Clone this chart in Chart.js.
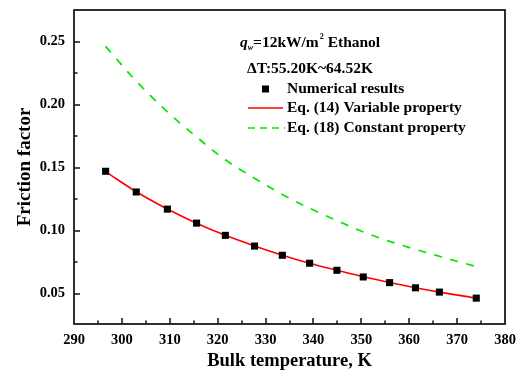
<!DOCTYPE html>
<html>
<head>
<meta charset="utf-8">
<script src="https://cdn.jsdelivr.net/npm/chart.js@4.4.1/dist/chart.umd.min.js"></script>
<style>
  html, body { margin: 0; padding: 0; background: #fff; }
  #wrap { width: 524px; height: 373px; }
</style>
</head>
<body>
<div id="wrap"><canvas id="chart" width="524" height="373"></canvas></div>
<script>
// bulk temperature, K
const temps = [296.6, 303.0, 309.5, 315.6, 321.6, 327.7, 333.5, 339.2, 344.9, 350.4, 355.9, 361.3, 366.3, 374.0];
// numerical results
const numerical = [0.1471, 0.1307, 0.1171, 0.1060, 0.0963, 0.0878, 0.0805, 0.0742, 0.0686, 0.0633, 0.0588, 0.0547, 0.0513, 0.0465];
// Eq. (14) variable property
const eq14 = [0.1468, 0.1309, 0.1172, 0.1059, 0.0963, 0.0879, 0.0806, 0.0742, 0.0686, 0.0634, 0.0589, 0.0548, 0.0513, 0.0465];
// Eq. (18) constant property
const eq18 = [0.2462, 0.2186, 0.1942, 0.1743, 0.1562, 0.1416, 0.1287, 0.1178, 0.1080, 0.0990, 0.0915, 0.0852, 0.0797, 0.0715];

const xTicks = [290, 300, 310, 320, 330, 340, 350, 360, 370, 380];
const yTicks = [0.05, 0.10, 0.15, 0.20, 0.25];

const FONT = '"Liberation Serif", "Times New Roman", serif';
const GREEN = '#00e600';
const RED = '#ff0000';

const pts = (ys) => temps.map((t, i) => ({ x: t, y: ys[i] }));

// 框线、向内刻度和图内说明
const framePlugin = {
    id: 'frame',
    afterDatasetsDraw(chart) {
        const { ctx, chartArea: a, scales } = chart;
        const xs = scales.x, ys = scales.y;
        ctx.save();

        // inward ticks on bottom and left
        ctx.strokeStyle = '#111';
        ctx.lineWidth = 1.5;
        ctx.beginPath();
        for (let v = 295; v < 380; v += 5) {
            const px = Math.round(xs.getPixelForValue(v));
            const len = (v % 10 === 0) ? 6 : 3.5;
            ctx.moveTo(px, a.bottom);
            ctx.lineTo(px, a.bottom - len);
        }
        for (let k = 1; k <= 9; k++) {
            const v = 0.025 * k + 0.025;
            const py = Math.round(ys.getPixelForValue(v));
            const len = (k % 2 === 1) ? 6 : 3.5;
            ctx.moveTo(a.left, py);
            ctx.lineTo(a.left + len, py);
        }
        ctx.stroke();

        // box
        ctx.strokeStyle = '#1a1a1a';
        ctx.lineWidth = 1.8;
        ctx.strokeRect(a.left, a.top, a.right - a.left, a.bottom - a.top);

        // annotation text
        ctx.fillStyle = '#000';
        ctx.textBaseline = 'middle';
        ctx.textAlign = 'left';
        const fs = 15.5;
        let x = 240;
        const y1 = 43;
        ctx.font = 'italic bold ' + fs + 'px ' + FONT;
        ctx.fillText('q', x, y1);
        x += ctx.measureText('q').width;
        ctx.font = 'italic bold 8px ' + FONT;
        ctx.fillText('w', x, y1 + 5);
        x += ctx.measureText('w').width;
        ctx.font = 'bold ' + fs + 'px ' + FONT;
        ctx.fillText('=12kW/m', x, y1);
        x += ctx.measureText('=12kW/m').width;
        ctx.font = 'bold 8px ' + FONT;
        ctx.fillText('2', x + 1, y1 - 6);
        x += ctx.measureText('2').width + 1;
        ctx.font = 'bold ' + fs + 'px ' + FONT;
        ctx.fillText(' Ethanol', x, y1);

        ctx.fillText('\u0394T:55.20K~64.52K', 247, 69);

        // legend
        const lx0 = 248, lx1 = 283, tx = 287;
        ctx.fillRect(262, 85.5, 7, 7);
        ctx.fillText('Numerical results', tx, 89);

        ctx.strokeStyle = RED;
        ctx.lineWidth = 1.5;
        ctx.beginPath();
        ctx.moveTo(lx0, 108);
        ctx.lineTo(lx1, 108);
        ctx.stroke();
        ctx.fillText('Eq. (14) Variable property', tx, 108);

        ctx.strokeStyle = GREEN;
        ctx.setLineDash([7, 5]);
        ctx.beginPath();
        ctx.moveTo(lx0, 128);
        ctx.lineTo(lx1 + 2, 128);
        ctx.stroke();
        ctx.setLineDash([]);
        ctx.fillText('Eq. (18) Constant property', tx, 128);

        ctx.restore();
    }
};

new Chart(document.getElementById('chart'), {
    type: 'scatter',
    data: {
        datasets: [
            {
                label: 'Numerical results',
                data: pts(numerical),
                pointStyle: 'rect',
                pointRadius: 5,
                backgroundColor: '#000',
                borderColor: '#000',
                borderWidth: 0,
                showLine: false,
                order: 0
            },
            {
                label: 'Eq. (14) Variable property',
                data: pts(eq14),
                showLine: true,
                borderColor: RED,
                borderWidth: 1.6,
                pointRadius: 0,
                cubicInterpolationMode: 'monotone',
                order: 1
            },
            {
                label: 'Eq. (18) Constant property',
                data: pts(eq18),
                showLine: true,
                borderColor: GREEN,
                borderWidth: 1.7,
                borderDash: [8, 8.5],
                pointRadius: 0,
                cubicInterpolationMode: 'monotone',
                order: 2
            }
        ]
    },
    options: {
        responsive: false,
        animation: false,
        layout: { padding: { top: 10, right: 19, left: 0, bottom: 0 } },
        plugins: {
            legend: { display: false },
            tooltip: { enabled: false }
        },
        scales: {
            x: {
                type: 'linear',
                min: 290,
                max: 380,
                afterFit(scale) {
                    scale.height = 49;
                    scale.paddingLeft = 0;
                    scale.paddingRight = 0;
                },
                afterBuildTicks(scale) { scale.ticks = xTicks.map(v => ({ value: v })); },
                grid: { display: false, drawTicks: false },
                border: { display: false },
                ticks: {
                    padding: 8,
                    color: '#000',
                    font: { family: FONT, size: 14.5, weight: 'bold' }
                },
                title: {
                    display: true,
                    text: 'Bulk temperature, K',
                    color: '#000',
                    padding: { top: 0, bottom: 1 },
                    font: { family: FONT, size: 18.5, weight: 'bold' }
                }
            },
            y: {
                type: 'linear',
                min: 0.026,
                max: 0.275,
                afterFit(scale) {
                    scale.width = 74;
                    scale.paddingTop = 0;
                    scale.paddingBottom = 0;
                },
                afterBuildTicks(scale) { scale.ticks = yTicks.map(v => ({ value: v })); },
                grid: { display: false, drawTicks: false },
                border: { display: false },
                ticks: {
                    padding: 9,
                    color: '#000',
                    font: { family: FONT, size: 14.5, weight: 'bold' },
                    callback: (v) => Number(v).toFixed(2)
                },
                title: {
                    display: true,
                    text: 'Friction factor',
                    color: '#000',
                    padding: { top: 14, bottom: 0 },
                    font: { family: FONT, size: 19, weight: 'bold' }
                }
            }
        }
    },
    plugins: [framePlugin]
});
</script>
</body>
</html>
